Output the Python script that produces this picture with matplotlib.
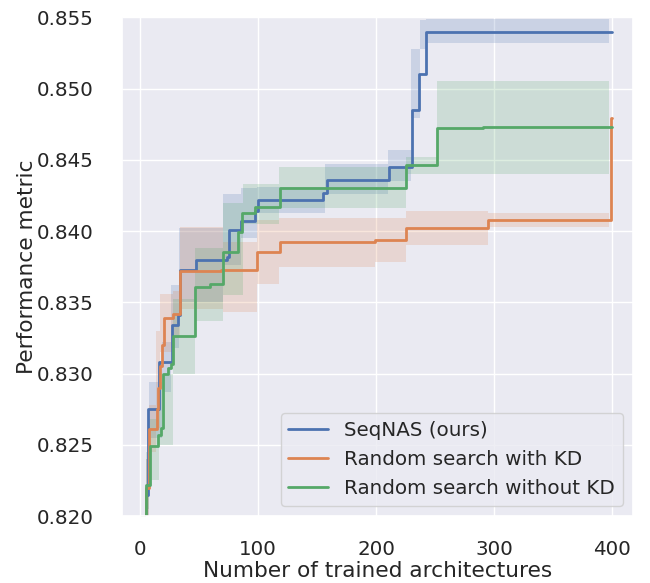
import matplotlib
matplotlib.use("Agg")
import matplotlib.pyplot as plt
import seaborn as sns

sns.set_theme(style="darkgrid", font_scale=1.3)
plt.rcParams['font.family'] = ['DejaVu Sans']

# mean curves (step changes)
seqnas_x = [1, 5.5, 7.2, 16, 27.5, 32.5, 34, 47.5, 74, 75.7, 86, 97.5, 100.3, 154.8, 158.5, 211.3, 230.2, 236.6, 242.3, 400]
seqnas_y = [0.8150, 0.8215, 0.8275, 0.8308, 0.8334, 0.8341, 0.8373, 0.8380, 0.8382, 0.8401, 0.8407, 0.8414, 0.8422, 0.8427, 0.8436, 0.8445, 0.8485, 0.8510, 0.8540, 0.8540]

kd_x = [1, 5, 7.8, 14.1, 15.5, 17, 18.5, 20.3, 27.7, 33.8, 69, 99, 118.6, 199, 225.3, 295.2, 399, 400]
kd_y = [0.8150, 0.8220, 0.8261, 0.8275, 0.8290, 0.8305, 0.8320, 0.8339, 0.8342, 0.8372, 0.8373, 0.8385, 0.8392, 0.8394, 0.8402, 0.8408, 0.8479, 0.8479]

nokd_x = [1, 5, 8.5, 15.5, 17.5, 19.8, 24, 26, 28.2, 47, 59, 70, 83, 86.5, 97.5, 118.6, 225.4, 252, 291, 400]
nokd_y = [0.8150, 0.8222, 0.8249, 0.8257, 0.8262, 0.8300, 0.8304, 0.8307, 0.8326, 0.8361, 0.8363, 0.8385, 0.8399, 0.8413, 0.8417, 0.8430, 0.8446, 0.8472, 0.8473, 0.8473]

# confidence bands
seqnas_band_x = [1, 5, 7.5, 19, 26, 33, 70, 86, 99, 157, 210, 230, 237.5, 242, 397.5]
seqnas_lo = [0.8100, 0.8200, 0.8255, 0.8287, 0.8318, 0.8350, 0.8376, 0.8395, 0.8413, 0.8426, 0.8435, 0.8479, 0.8528, 0.8532, 0.8532]
seqnas_hi = [0.8200, 0.8240, 0.8294, 0.8322, 0.8362, 0.8402, 0.8426, 0.8430, 0.8431, 0.8447, 0.8457, 0.8528, 0.8548, 0.8549, 0.8549]

kd_band_x = [1, 5, 7.5, 14, 17, 28, 34, 70, 99, 118, 199, 225, 295, 397.5]
kd_lo = [0.8100, 0.8200, 0.8245, 0.8262, 0.8315, 0.8325, 0.8345, 0.8343, 0.8363, 0.8375, 0.8378, 0.8390, 0.8403, 0.8403]
kd_hi = [0.8200, 0.8240, 0.8278, 0.8330, 0.8356, 0.8358, 0.8403, 0.8392, 0.8408, 0.8409, 0.8409, 0.8414, 0.8413, 0.8413]

nokd_band_x = [1, 5, 8, 16, 28, 47, 70, 87, 118, 225, 252, 397.5]
nokd_lo = [0.8100, 0.8205, 0.8225, 0.8250, 0.8300, 0.8337, 0.8355, 0.8405, 0.8416, 0.8440, 0.8440, 0.8440]
nokd_hi = [0.8200, 0.8245, 0.8268, 0.8300, 0.8352, 0.8388, 0.8420, 0.8433, 0.8445, 0.8452, 0.8505, 0.8505]

labels = ["SeqNAS (ours)", "Random search with KD", "Random search without KD"]
colors = sns.color_palette("deep")[:3]

fig = plt.figure(figsize=(6.5, 5.83), dpi=100)
ax = fig.add_axes([0.1872, 0.1149, 0.7862, 0.8554])

series = [
    (seqnas_x, seqnas_y, seqnas_band_x, seqnas_lo, seqnas_hi),
    (kd_x, kd_y, kd_band_x, kd_lo, kd_hi),
    (nokd_x, nokd_y, nokd_band_x, nokd_lo, nokd_hi),
]
for (x, y, bx, lo, hi), lab, c in zip(series, labels, colors):
    ax.fill_between(bx, lo, hi, step="post", color=c, alpha=0.2, linewidth=0)
    ax.step(x, y, where="post", color=c, lw=2, label=lab)

ax.set_xlim(-15.5, 417.5)
ax.set_ylim(0.820, 0.855)
ax.set_xticks([0, 100, 200, 300, 400])
ax.set_yticks([0.820, 0.825, 0.830, 0.835, 0.840, 0.845, 0.850, 0.855])
ax.set_yticklabels(["%.3f" % v for v in ax.get_yticks()])
ax.tick_params(axis="x", pad=11)
ax.tick_params(axis="y", pad=14)
ax.set_xlabel("Number of trained architectures", labelpad=2)
ax.set_ylabel("Performance metric", labelpad=0)
ax.legend(loc="lower right")

fig.savefig("out.png", dpi=100)
